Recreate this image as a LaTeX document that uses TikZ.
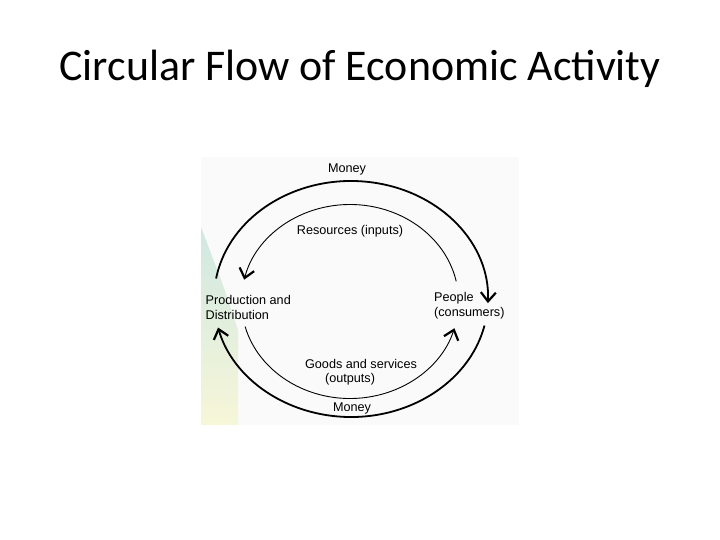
\documentclass[tikz,border=0pt]{standalone}
\usepackage{fontspec}
\setmainfont{Carlito}
\newfontfamily\flowfont{Liberation Sans}
\usepackage{tikz}
\usetikzlibrary{arrows.meta, positioning}
\definecolor{panelgray}{HTML}{FAFAFA}
\definecolor{stripteal}{HTML}{CFE8E2}
\definecolor{stripyellow}{HTML}{F7F6D8}

\begin{document}
\begin{tikzpicture}[x=1bp, y=-1bp,
  flowtext/.style={font=\flowfont\fontsize{12.7}{15}\selectfont, inner sep=0pt},
  barb/.style={-{Straight Barb[length=9bp, width=15bp, line width=2.2bp]}},
  moneyflow/.style={barb, line width=1.8bp},
  goodsflow/.style={barb, line width=0.9bp}]
  \useasboundingbox (0,0) rectangle (720,540);

  % Title
  \node[font=\fontsize{44}{52}\selectfont, anchor=base] (title) at (360,81) {Circular Flow of Economic Activity};

  % Picture panel with its coloured strip
  \fill[panelgray] (201,157) rectangle (519,425);
  \shade[top color=stripteal, bottom color=stripyellow]
    (201,227) -- (224,288) -- (238,330) -- (238,425) -- (201,425) -- cycle;

  % Labels
  \node[flowtext] (moneytop) at (347,169) {Money};
  \node[flowtext] (resources) at (350,231) {Resources (inputs)};
  \node[flowtext, anchor=west, align=left] (production) at (205.5,307.5) {Production and\\Distribution};
  \node[flowtext, anchor=west, align=left] (people) at (434,305.5) {People\\(consumers)};
  \node[flowtext] (goods) at (361,363.5) {Goods and services};
  \node[flowtext] (outputs) at (350,379.5) {(outputs)};
  \node[flowtext] (moneybottom) at (352,408.5) {Money};

  % Centres of the two loops
  \coordinate (outer) at (351,299);
  \coordinate (inner) at (350,301.5);

  % Money loop (outer)
  \draw[moneyflow] ([shift={(190:137 and 118)}]outer)
    arc[start angle=190, end angle=362, x radius=137, y radius=118];
  \draw[moneyflow] ([shift={(13:137 and 118)}]outer)
    arc[start angle=13, end angle=166, x radius=137, y radius=118];

  % Resources and goods loop (inner)
  \draw[goodsflow] ([shift={(-12:108.6 and 97)}]inner)
    arc[start angle=-12, end angle=-167, x radius=108.6, y radius=97];
  \draw[goodsflow] ([shift={(165:108.6 and 97)}]inner)
    arc[start angle=165, end angle=16, x radius=108.6, y radius=97];
\end{tikzpicture}
\end{document}
